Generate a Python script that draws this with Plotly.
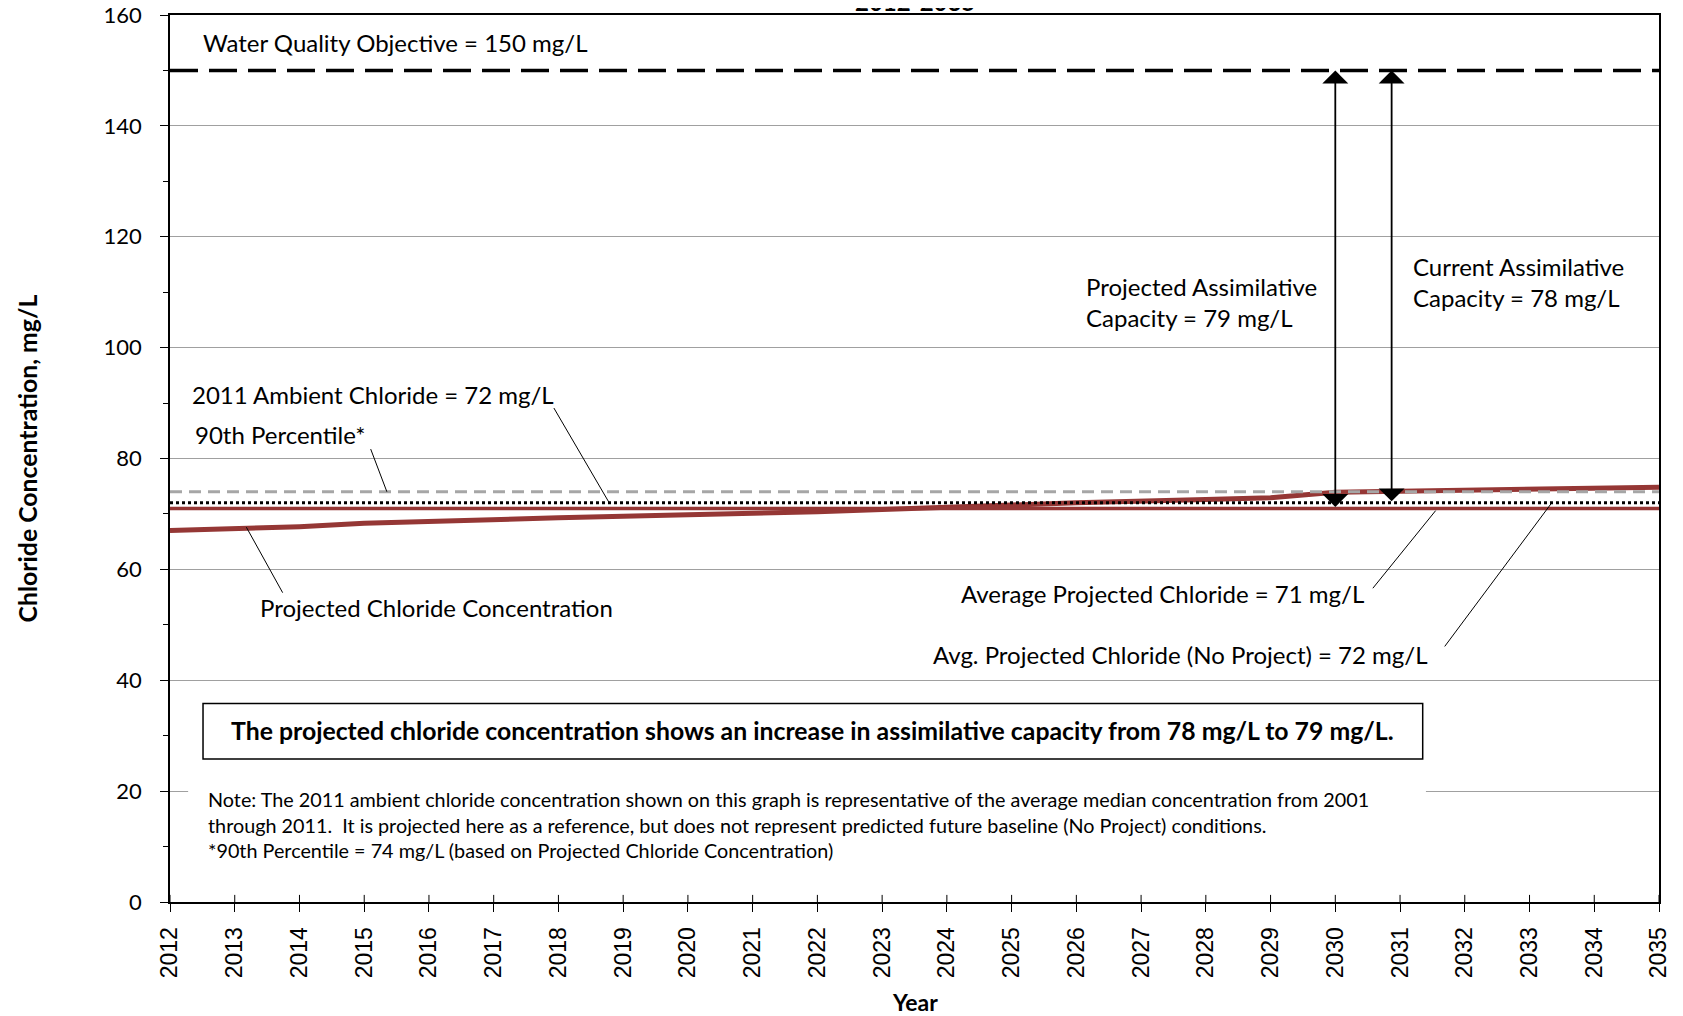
import plotly.graph_objects as go

# ---------------- data ----------------
years = list(range(2012, 2036))
projected = [67.0, 67.3, 67.7, 68.3, 68.7, 69.0, 69.3, 69.6, 69.8, 70.1, 70.4, 70.8,
             71.3, 71.6, 72.0, 72.4, 72.6, 72.9, 73.9, 74.1, 74.3, 74.4, 74.6, 74.8]
avg_projected = 71
ambient_2011 = 72
pct90 = 74
wqo = 150
assim_projected_x = 2030
assim_current_x = 2030.87
y_ticks = [0, 20, 40, 60, 80, 100, 120, 140, 160]

FONT = "Lato"
RED = "#953735"
x_span = [years[0], years[-1]]

fig = go.Figure()
fig.add_trace(go.Scatter(x=x_span, y=[avg_projected] * 2, mode="lines",
                         line=dict(color=RED, width=3.5), hoverinfo="skip"))
fig.add_trace(go.Scatter(x=years, y=projected, mode="lines",
                         line=dict(color=RED, width=5), hoverinfo="skip"))
fig.add_trace(go.Scatter(x=x_span, y=[ambient_2011] * 2, mode="lines",
                         line=dict(color="black", width=3, dash="dot"), hoverinfo="skip"))
fig.add_trace(go.Scatter(x=x_span, y=[pct90] * 2, mode="lines",
                         line=dict(color="#a6a6a6", width=3, dash="12px,7px"), hoverinfo="skip"))
fig.add_trace(go.Scatter(x=x_span, y=[wqo] * 2, mode="lines",
                         line=dict(color="black", width=3.5, dash="28px,11px"), hoverinfo="skip"))

shapes = []
# crossing part of x ticks (inside)
for yr in years:
    shapes.append(dict(type="line", xref="x", yref="paper", x0=yr, x1=yr, y0=0, y1=0.008,
                       line=dict(color="black", width=1)))
# leader lines
leaders = [
    (2015.10, 81.7, 2015.35, 74.0),
    (2017.93, 89.1, 2018.78, 72.1),
    (2013.74, 55.8, 2013.18, 67.6),
    (2030.58, 56.6, 2031.55, 70.6),
    (2031.69, 46.1, 2033.33, 71.8),
]
for x0, y0, x1, y1 in leaders:
    shapes.append(dict(type="line", xref="x", yref="y", x0=x0, y0=y0, x1=x1, y1=y1,
                       line=dict(color="black", width=1), layer="above"))
# white backdrop of note
shapes.append(dict(type="rect", xref="x", yref="y", x0=2012.28, x1=2031.4, y0=6.0, y1=22.0,
                   fillcolor="white", line=dict(width=0), layer="above"))
# message box
shapes.append(dict(type="rect", xref="x", yref="y", x0=2012.51, x1=2031.35, y0=25.8, y1=35.8,
                   fillcolor="white", line=dict(color="black", width=1.5), layer="above"))

ann = []
def txt(x, y, s, anchor="left", size=24, bold=False, yanchor="middle"):
    ann.append(dict(x=x, y=y, xref="x", yref="y", text=("<b>%s</b>" % s) if bold else s,
                    showarrow=False, xanchor=anchor, yanchor=yanchor, align=anchor,
                    font=dict(family=FONT, size=size, color="black")))

txt(2012.48, 155.0, "Water Quality Objective = 150 mg/L")
txt(2012.31, 91.6, "2011 Ambient Chloride = 72 mg/L")
txt(2012.36, 84.3, "90th Percentile*")
txt(2013.36, 53.1, "Projected Chloride Concentration")
txt(2026.12, 108.2, "Projected Assimilative<br>Capacity = 79 mg/L")
txt(2031.17, 111.8, "Current Assimilative<br>Capacity = 78 mg/L")
txt(2030.48, 55.6, "Average Projected Chloride = 71 mg/L", anchor="right")
txt(2031.47, 44.7, "Avg. Projected Chloride (No Project) = 72 mg/L", anchor="right")
txt((2012.51 + 2031.35) / 2, 30.9,
    "The projected chloride concentration shows an increase in assimilative capacity from 78 mg/L to 79 mg/L.",
    anchor="center", size=24.8, bold=True)
ann.append(dict(x=2012.56, y=14.0, xref="x", yref="y", showarrow=False, xanchor="left",
                yanchor="middle", align="left",
                text="Note: The 2011 ambient chloride concentration shown on this graph is representative of the average median concentration from 2001<br>"
                     "through 2011.  It is projected here as a reference, but does not represent predicted future baseline (No Project) conditions.<br>"
                     "*90th Percentile = 74 mg/L (based on Projected Chloride Concentration)",
                font=dict(family=FONT, size=19.8, color="black")))

# assimilative capacity arrows
for xa, ylow in [(assim_projected_x, avg_projected), (assim_current_x, ambient_2011)]:
    ann.append(dict(x=xa, y=wqo, ax=xa, ay=ylow, xref="x", yref="y", axref="x", ayref="y",
                    text="", showarrow=True, arrowhead=1, startarrowhead=1, arrowside="end+start",
                    arrowsize=2.4, startarrowsize=2.4, arrowwidth=1.8, arrowcolor="black",
                    standoff=0, startstandoff=0))

# title (cut off at the top) and axis titles
ann.append(dict(x=0.5, y=1, xref="paper", yref="paper", text="<b>2012-2035</b>", showarrow=False,
                xanchor="center", yanchor="bottom", yshift=-3,
                font=dict(family=FONT, size=24, color="black")))
ann.append(dict(x=0.5, y=0, xref="paper", yref="paper", text="<b>Year</b>", showarrow=False,
                xanchor="center", yanchor="middle", yshift=-100,
                font=dict(family=FONT, size=23, color="black")))
ann.append(dict(x=0, y=0.5, xref="paper", yref="paper", text="<b>Chloride Concentration, mg/L</b>",
                showarrow=False, textangle=-90, xanchor="center", yanchor="middle", xshift=-143,
                font=dict(family=FONT, size=24.8, color="black")))

fig.update_layout(
    width=1675, height=1008,
    margin=dict(l=162, r=24, t=7, b=114),
    paper_bgcolor="white", plot_bgcolor="white",
    showlegend=False,
    shapes=shapes, annotations=ann,
)
fig.update_xaxes(range=x_span, tickmode="array", tickvals=years, ticktext=[str(y) for y in years],
                 tickangle=-90, ticks="outside", ticklen=8, tickcolor="black", tickwidth=1,
                 showgrid=False, zeroline=False, showline=True, linecolor="black", linewidth=2,
                 mirror=True, ticklabelstandoff=6, automargin=False, ticklabeloverflow="allow",
                 tickfont=dict(family="Liberation Sans", size=23, color="black"))
fig.update_yaxes(range=[0, 160], tickmode="array", tickvals=y_ticks, ticks="outside", ticklen=8,
                 tickcolor="black", tickwidth=1, showgrid=True, gridcolor="#a0a0a0", gridwidth=1,
                 zeroline=False, showline=True, linecolor="black", linewidth=1.5, mirror=True,
                 minor=dict(tickvals=[10, 30, 50, 70, 90, 110, 130, 150], ticks="outside", ticklen=5,
                            tickcolor="black", showgrid=False),
                 ticklabelstandoff=14, automargin=False, ticklabeloverflow="allow",
                 tickfont=dict(family=FONT, size=22, color="black"))

fig.write_html("out.html")
